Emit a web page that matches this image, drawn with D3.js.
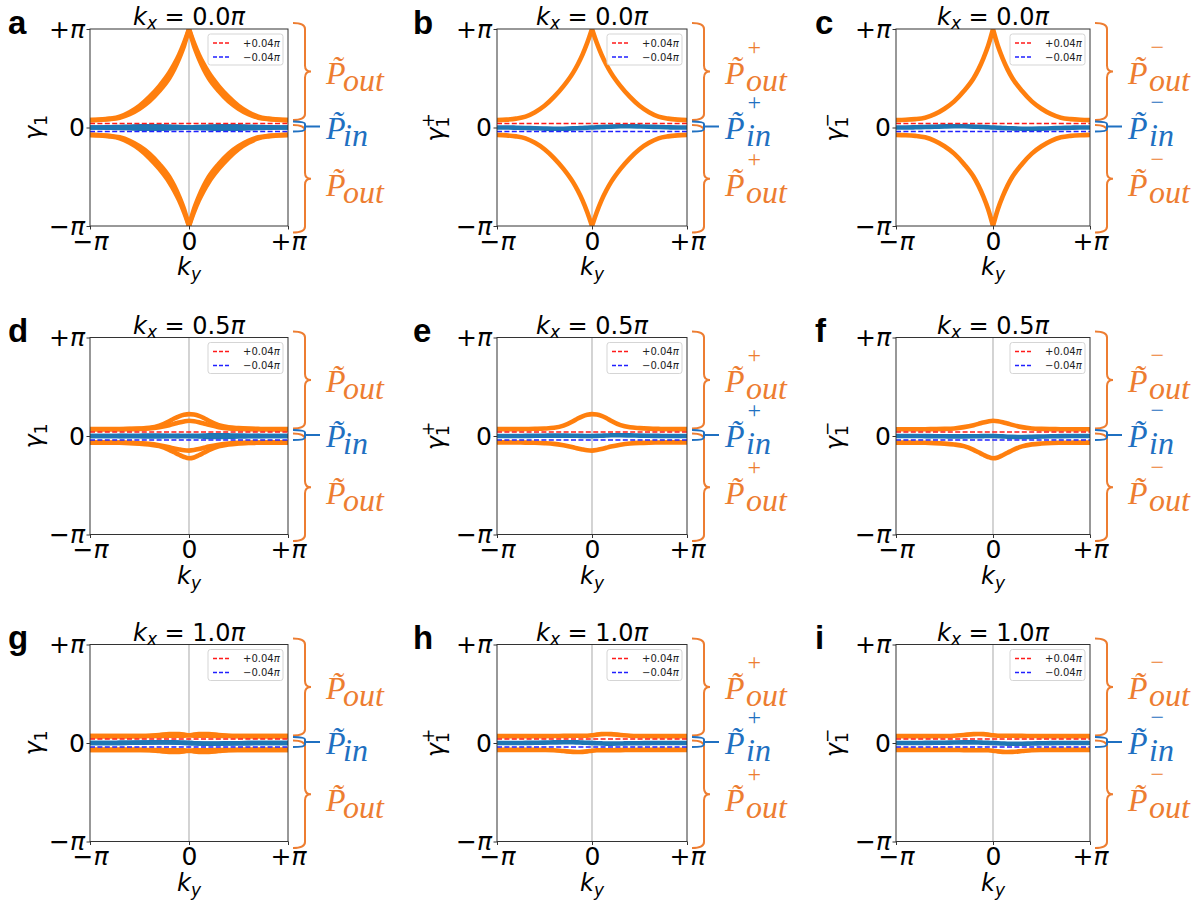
<!DOCTYPE html>
<html><head><meta charset="utf-8">
<script src="https://cdn.jsdelivr.net/npm/d3@7"></script>
<style>body{margin:0;background:#fff}</style>
</head><body><svg id="c" width="1200" height="909"></svg>
<script>
// ---------- data (all values in units of π) ----------
const kyGrid = [-1,-0.9,-0.8,-0.7,-0.6,-0.5,-0.4,-0.3,-0.2,-0.15,-0.1,-0.05,0,0.05,0.1,0.15,0.2,0.3,0.4,0.5,0.6,0.7,0.8,0.9,1];
const kxLabels = ['0.0','0.5','1.0'];
const panelLetters = ['a','b','c','d','e','f','g','h','i'];
const yTickValues = [-1,0,1];
const yTickLabels = ['−π','0','+π'];
const xTickValues = [-1,0,1];
const xTickLabels = ['−π','0','+π'];
const refLevels = [0.04,-0.04];
const refLabels = ['+0.04π','−0.04π'];
const bracketSup = ['', '+', '−'];

// kx = 0.0π
const up_plus_kx0  = [0.075,0.08,0.09,0.11,0.155,0.22,0.31,0.42,0.555,0.64,0.74,0.86,1.0,0.86,0.74,0.64,0.555,0.42,0.31,0.22,0.155,0.11,0.09,0.08,0.075];
const lo_plus_kx0  = [-0.075,-0.08,-0.09,-0.11,-0.155,-0.22,-0.31,-0.42,-0.555,-0.64,-0.74,-0.86,-1.0,-0.86,-0.74,-0.64,-0.555,-0.42,-0.31,-0.22,-0.155,-0.11,-0.09,-0.08,-0.075];
const up_minus_kx0 = [0.075,0.078,0.085,0.1,0.135,0.19,0.265,0.37,0.5,0.59,0.70,0.83,1.0,0.83,0.70,0.59,0.5,0.37,0.265,0.19,0.135,0.1,0.085,0.078,0.075];
const lo_minus_kx0 = [-0.075,-0.078,-0.085,-0.1,-0.135,-0.19,-0.265,-0.37,-0.5,-0.59,-0.70,-0.83,-1.0,-0.83,-0.70,-0.59,-0.5,-0.37,-0.265,-0.19,-0.135,-0.1,-0.085,-0.078,-0.075];
const blue_plus_kx0  = [0,0,-0.002,-0.005,-0.008,-0.011,-0.013,-0.012,-0.009,-0.007,-0.005,-0.002,0,0.002,0.005,0.007,0.009,0.012,0.013,0.011,0.008,0.005,0.002,0,0];
const blue_minus_kx0 = [0,0,0.002,0.005,0.008,0.011,0.013,0.012,0.009,0.007,0.005,0.002,0,-0.002,-0.005,-0.007,-0.009,-0.012,-0.013,-0.011,-0.008,-0.005,-0.002,0,0];

// kx = 0.5π
const up_plus_kx05  = [0.07,0.07,0.07,0.071,0.073,0.076,0.083,0.105,0.15,0.178,0.2,0.215,0.222,0.218,0.205,0.183,0.155,0.11,0.088,0.08,0.075,0.072,0.07,0.07,0.07];
const lo_plus_kx05  = [-0.065,-0.065,-0.066,-0.067,-0.069,-0.073,-0.08,-0.095,-0.115,-0.127,-0.137,-0.145,-0.148,-0.143,-0.133,-0.12,-0.107,-0.088,-0.076,-0.07,-0.067,-0.066,-0.065,-0.065,-0.065];
const up_minus_kx05 = [0.068,0.068,0.068,0.069,0.07,0.072,0.077,0.09,0.11,0.123,0.137,0.148,0.155,0.15,0.14,0.127,0.113,0.09,0.077,0.072,0.07,0.069,0.068,0.068,0.068];
const lo_minus_kx05 = [-0.067,-0.067,-0.068,-0.069,-0.072,-0.077,-0.086,-0.103,-0.14,-0.165,-0.19,-0.213,-0.226,-0.218,-0.195,-0.17,-0.145,-0.105,-0.085,-0.076,-0.071,-0.069,-0.068,-0.067,-0.067];
const blue_plus_kx05  = [0,0,0,0.001,0.002,0.003,0.004,0.004,0.003,0.002,0.001,0,0,0.001,0.003,0.005,0.007,0.008,0.006,0.004,0.002,0.001,0,0,0];
const blue_minus_kx05 = [0,0,0,-0.001,-0.002,-0.003,-0.004,-0.004,-0.003,-0.002,-0.001,0,0,-0.002,-0.004,-0.007,-0.009,-0.01,-0.008,-0.005,-0.003,-0.001,0,0,0];

// kx = 1.0π
const up_plus_kx1  = [0.07,0.07,0.07,0.07,0.07,0.07,0.071,0.072,0.073,0.073,0.073,0.074,0.078,0.085,0.09,0.092,0.09,0.082,0.074,0.071,0.07,0.07,0.07,0.07,0.07];
const lo_plus_kx1  = [-0.07,-0.07,-0.07,-0.07,-0.07,-0.071,-0.074,-0.082,-0.09,-0.092,-0.09,-0.085,-0.078,-0.074,-0.073,-0.073,-0.073,-0.072,-0.071,-0.07,-0.07,-0.07,-0.07,-0.07,-0.07];
const up_minus_kx1 = [0.07,0.07,0.07,0.07,0.07,0.071,0.074,0.082,0.09,0.092,0.09,0.085,0.078,0.074,0.073,0.073,0.073,0.072,0.071,0.07,0.07,0.07,0.07,0.07,0.07];
const lo_minus_kx1 = [-0.07,-0.07,-0.07,-0.07,-0.07,-0.07,-0.071,-0.072,-0.073,-0.073,-0.073,-0.074,-0.078,-0.085,-0.09,-0.092,-0.09,-0.082,-0.074,-0.071,-0.07,-0.07,-0.07,-0.07,-0.07];
const blue_plus_kx1  = [0,0,0,0.001,0.002,0.004,0.006,0.008,0.008,0.006,0.004,0.002,0,-0.002,-0.004,-0.006,-0.006,-0.005,-0.003,-0.002,-0.001,0,0,0,0];
const blue_minus_kx1 = [0,0,0,0.001,0.002,0.003,0.005,0.006,0.006,0.005,0.003,0.001,0,-0.003,-0.005,-0.007,-0.008,-0.007,-0.005,-0.003,-0.001,0,0,0,0];

const seriesTable = [
  {plusUp:up_plus_kx0, plusLo:lo_plus_kx0, minusUp:up_minus_kx0, minusLo:lo_minus_kx0, plusBlue:blue_plus_kx0, minusBlue:blue_minus_kx0},
  {plusUp:up_plus_kx05, plusLo:lo_plus_kx05, minusUp:up_minus_kx05, minusLo:lo_minus_kx05, plusBlue:blue_plus_kx05, minusBlue:blue_minus_kx05},
  {plusUp:up_plus_kx1, plusLo:lo_plus_kx1, minusUp:up_minus_kx1, minusLo:lo_minus_kx1, plusBlue:blue_plus_kx1, minusBlue:blue_minus_kx1}
];

// ---------- layout ----------
const svg = d3.select('#c');
const ORANGE = '#ff7f0e', BLUE = '#1f77b4';
const BR_OR = '#ED7D31', BR_BL = '#1F70C1';
const SANS = 'DejaVu Sans', SERIF = 'Liberation Serif';
const colX = [[90,288],[497,687],[896,1090]];
const rowY = [[29,226],[337.5,534.5],[644.5,841.5]];
const letterX = [8,413,815];

function rich(g, x, y, parts, attrs) {
  const t = g.append('text').attr('x', x).attr('y', y);
  Object.entries(attrs||{}).forEach(([k,v]) => t.attr(k, v));
  let cur = 0;
  parts.forEach(p => {
    const s = p.shift || 0;
    const ts = t.append('tspan').text(p.t).attr('dy', s - cur);
    cur = s;
    if (p.it) ts.attr('font-style', 'italic');
    if (p.size) ts.attr('font-size', p.size);
    if (p.dx) ts.attr('dx', p.dx);
  });
  return t;
}
function piParts(lbl) {
  if (lbl.endsWith('π')) return [{t: lbl.slice(0,-1)}, {t:'π', it:true}];
  return [{t: lbl}];
}

function brace(g, x0, x1, x2, y0, y1, color, r) {
  const ym = (y0 + y1) / 2;
  const p = `M${x0},${y0} Q${x1},${y0} ${x1},${y0+r} L${x1},${ym-r} Q${x1},${ym} ${x2},${ym} Q${x1},${ym} ${x1},${ym+r} L${x1},${y1-r} Q${x1},${y1} ${x0},${y1}`;
  g.append('path').attr('d', p).attr('fill','none').attr('stroke', color).attr('stroke-width', 2);
}
function blueBrace(g, x0, x1, x2, y0, y1, color) {
  const ym = (y0 + y1) / 2, r = 2.5;
  const p = `M${x0},${y0} Q${x1},${y0} ${x1},${y0+r} L${x1},${y1-r} Q${x1},${y1} ${x0},${y1} M${x1},${ym} L${x2},${ym}`;
  g.append('path').attr('d', p).attr('fill','none').attr('stroke', color).attr('stroke-width', 2);
}
function pLabel(g, X, base, color, sub, sup) {
  const parts = sup
    ? [{t:'P\u0303', it:true}, {t:sup, size:24, shift:-29, dx:3}, {t:sub, it:true, shift:7, dx:-15}]
    : [{t:'P\u0303', it:true}, {t:sub, it:true, shift:7, dx:-2.5}];
  rich(g, X, base, parts, {fill:color, 'font-family':SERIF, 'font-size':32});
}

for (let r = 0; r < 3; r++) {
  for (let c = 0; c < 3; c++) {
    const [x0, x1] = colX[c], [y0, y1] = rowY[r];
    const x = d3.scaleLinear().domain([-1,1]).range([x0, x1]);
    const y = d3.scaleLinear().domain([-1,1]).range([y1, y0]);
    const S = seriesTable[r];
    const g = svg.append('g');
    const cid = `clip${r}${c}`;
    g.append('clipPath').attr('id', cid).append('rect')
      .attr('x', x0).attr('y', y0).attr('width', x1 - x0).attr('height', y1 - y0);
    const pg = g.append('g').attr('clip-path', `url(#${cid})`);

    pg.append('line').attr('x1', x(0)).attr('x2', x(0)).attr('y1', y0).attr('y2', y1)
      .attr('stroke', '#b0b0b0').attr('stroke-width', 1.1);

    const line = d3.line().curve(d3.curveMonotoneX);
    const mid = kyGrid.indexOf(0);
    function pathFor(vals, cusp) {
      const pts = kyGrid.map((k, i) => [x(k), y(vals[i])]);
      if (!cusp) return line(pts);
      const a = line(pts.slice(0, mid + 1)), b = line(pts.slice(mid));
      return a + 'L' + b.slice(1);
    }
    const oranges = c === 0 ? [S.plusUp, S.plusLo, S.minusUp, S.minusLo]
                  : c === 1 ? [S.plusUp, S.plusLo] : [S.minusUp, S.minusLo];
    const blues = c === 0 ? [S.plusBlue, S.minusBlue] : c === 1 ? [S.plusBlue] : [S.minusBlue];
    oranges.forEach(v => pg.append('path').attr('d', pathFor(v, r === 0)).attr('fill','none')
      .attr('stroke', ORANGE).attr('stroke-width', 4.6).attr('stroke-linejoin','round'));
    blues.forEach(v => pg.append('path').attr('d', pathFor(v, false)).attr('fill','none')
      .attr('stroke', BLUE).attr('stroke-width', 4.6).attr('stroke-linejoin','round'));
    const refColors = ['#ff1a1a', '#2020ff'];
    refLevels.forEach((lv, i) => pg.append('line').attr('x1', x0).attr('x2', x1)
      .attr('y1', y(lv)).attr('y2', y(lv)).attr('stroke', refColors[i]).attr('stroke-width', 1.4)
      .attr('stroke-dasharray', '5,2.4'));

    g.append('rect').attr('x', x0).attr('y', y0).attr('width', x1 - x0).attr('height', y1 - y0)
      .attr('fill', 'none').attr('stroke', '#333').attr('stroke-width', 1);

    const ya = g.append('g').attr('transform', `translate(${x0},0)`)
      .call(d3.axisLeft(y).tickValues(yTickValues).tickSize(3.5).tickPadding(1.5));
    const xa = g.append('g').attr('transform', `translate(0,${y1})`)
      .call(d3.axisBottom(x).tickValues(xTickValues).tickSize(3.5).tickPadding(2.5));
    [ya, xa].forEach(a => {
      a.select('.domain').remove();
      a.selectAll('line').attr('stroke', '#333');
      a.attr('font-family', SANS).attr('font-size', 25);
    });
    ya.selectAll('.tick text').each(function(d) {
      const t = d3.select(this).text('').attr('fill', '#000');
      piParts(yTickLabels[yTickValues.indexOf(d)]).forEach(p => {
        const ts = t.append('tspan').text(p.t); if (p.it) ts.attr('font-style','italic');
      });
    });
    xa.selectAll('.tick text').each(function(d) {
      const t = d3.select(this).text('').attr('fill', '#000');
      piParts(xTickLabels[xTickValues.indexOf(d)]).forEach(p => {
        const ts = t.append('tspan').text(p.t); if (p.it) ts.attr('font-style','italic');
      });
    });

    const cx = (x0 + x1) / 2, cy = (y0 + y1) / 2;
    rich(g, cx, y0 - 4, [
      {t:'k', it:true}, {t:'x', it:true, size:17, shift:4},
      {t:' = ' + kxLabels[r]}, {t:'π', it:true}
    ], {'text-anchor':'middle', 'font-family':SANS, 'font-size':24});
    rich(g, cx, y1 + 49, [{t:'k', it:true}, {t:'y', it:true, size:17, shift:5}],
      {'text-anchor':'middle', 'font-family':SANS, 'font-size':24});
    const yl = c === 0 ? [{t:'γ', it:true}, {t:'1', size:17, shift:5}]
      : [{t:'γ', it:true}, {t:'1', size:17, shift:5}, {t: bracketSup[c], size:17, shift:-10, dx:-10.8}];
    const ylx = c === 0 ? x0 - 48 : x0 - 53;
    rich(g, 0, 0, yl, {'text-anchor':'middle', 'font-family':SANS, 'font-size':24,
      transform:`translate(${ylx},${cy}) rotate(-90)`});

    const lw = 75, lh = 31, lx = x1 - 5 - lw, ly = y0 + 5;
    const lgd = g.append('g');
    lgd.append('rect').attr('x', lx).attr('y', ly).attr('width', lw).attr('height', lh)
      .attr('rx', 2.5).attr('fill', 'rgba(255,255,255,0.8)').attr('stroke', '#d5d5d5').attr('stroke-width', 1);
    refLabels.forEach((lab, i) => {
      const yy = ly + 9 + i * 14;
      lgd.append('line').attr('x1', lx + 5).attr('x2', lx + 21).attr('y1', yy).attr('y2', yy)
        .attr('stroke', refColors[i]).attr('stroke-width', 1.3).attr('stroke-dasharray', '4,2');
      rich(lgd, lx + 35, yy + 3.5, piParts(lab), {'font-family':SANS, 'font-size':10, fill:'#222'});
    });

    svg.append('text').attr('x', letterX[c]).attr('y', y0 + 4.5).attr('font-family', 'Liberation Sans')
      .attr('font-weight', 'bold').attr('font-size', 33).text(panelLetters[r * 3 + c]);

    const R = x1;
    brace(g, R + 5, R + 17, R + 23, y0 - 6, cy - 7.5, BR_OR, 6);
    brace(g, R + 5, R + 17, R + 23, cy - 2.5, y1 + 6.5, BR_OR, 6);
    blueBrace(g, R + 5, R + 17, R + 32, cy - 6, cy + 4, BR_BL);
    pLabel(g, R + 38, cy - 44, BR_OR, 'out', bracketSup[c]);
    pLabel(g, R + 38, cy + 11, BR_BL, 'in', bracketSup[c]);
    pLabel(g, R + 38, cy + 68, BR_OR, 'out', bracketSup[c]);
  }
}
</script>
</body></html>
